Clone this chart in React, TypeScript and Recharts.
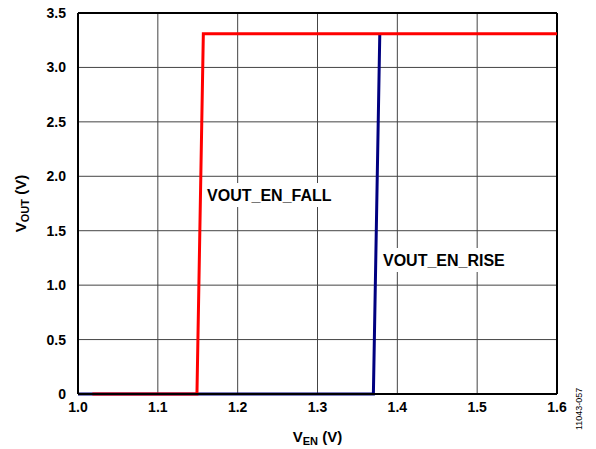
import React from "react";
import {
  LineChart,
  Line,
  XAxis,
  YAxis,
  CartesianGrid,
  ReferenceLine,
  ReferenceDot,
} from "recharts";

// --- data ---
const fallX = [1.018, 1.149, 1.157, 1.6];
const fallY = [0, 0, 3.31, 3.31];
const riseX = [1.0, 1.37, 1.378];
const riseY = [0, 0, 3.3];
const xTicks = [1.0, 1.1, 1.2, 1.3, 1.4, 1.5, 1.6];
const yTicks = [0, 0.5, 1.0, 1.5, 2.0, 2.5, 3.0, 3.5];

const fallData = fallX.map((x, i) => ({ x, v: fallY[i] }));
const riseData = riseX.map((x, i) => ({ x, v: riseY[i] }));

const font = "'Liberation Sans', Arial, sans-serif";

const XLabel = ({ viewBox }: any) => {
  const cx = viewBox.x + viewBox.width / 2;
  return (
    <text x={cx} y={442} textAnchor="middle" fontFamily={font} fontWeight="bold" fontSize={15} fill="#000">
      V<tspan fontSize={11} dy={3}>EN</tspan>
      <tspan dy={-3}> (V)</tspan>
    </text>
  );
};

const YLabel = ({ viewBox }: any) => {
  const cy = viewBox.y + viewBox.height / 2;
  return (
    <text x={26} y={cy} transform={`rotate(-90 26 ${cy})`} textAnchor="middle" fontFamily={font} fontWeight="bold" fontSize={15} fill="#000">
      V<tspan fontSize={11} dy={3}>OUT</tspan>
      <tspan dy={-3}> (V)</tspan>
    </text>
  );
};

const tagLabel = (text: string, w: number) => ({ viewBox }: any) => {
  const x = viewBox.cx ?? viewBox.x + (viewBox.width || 0) / 2;
  const y = viewBox.cy ?? viewBox.y + (viewBox.height || 0) / 2;
  return (
    <g>
      <rect x={x - 3} y={y - 12} width={w} height={24} fill="#fff" />
      <text x={x} y={y + 6} fontFamily={font} fontWeight="bold" fontSize={16} fill="#000">
        {text}
      </text>
    </g>
  );
};

export default function App() {
  return (
    <div style={{ position: "absolute", left: 0, top: 0, width: 596, height: 449, background: "#fff" }}>
      <LineChart width={596} height={449} margin={{ top: 13, right: 39, left: 36, bottom: 25 }}>
        <CartesianGrid stroke="#444" strokeWidth={1} horizontalValues={yTicks} verticalValues={xTicks} />
        <XAxis
          type="number"
          dataKey="x"
          domain={[1.0, 1.6]}
          ticks={xTicks}
          tickFormatter={(v: number) => v.toFixed(1)}
          tickLine={false}
          axisLine={{ stroke: "#000", strokeWidth: 2 }}
          tick={{ fill: "#000", fontSize: 14, fontWeight: "bold", fontFamily: font }}
          height={30}
          tickMargin={2}
          allowDataOverflow
          label={<XLabel />}
        />
        <YAxis
          type="number"
          dataKey="v"
          domain={[0, 3.5]}
          ticks={yTicks}
          tickFormatter={(v: number) => (v === 0 ? "0" : v.toFixed(1))}
          tickLine={false}
          axisLine={{ stroke: "#000", strokeWidth: 2 }}
          tick={{ fill: "#000", fontSize: 14, fontWeight: "bold", fontFamily: font }}
          width={42}
          tickMargin={6}
          label={<YLabel />}
        />
        <ReferenceLine y={3.5} stroke="#000" strokeWidth={2} />
        <ReferenceLine x={1.6} stroke="#000" strokeWidth={2} />
        <ReferenceDot x={1.1617} y={1.828} r={0} stroke="none" label={tagLabel("VOUT_EN_FALL", 130)} />
        <ReferenceDot x={1.382} y={1.231} r={0} stroke="none" label={tagLabel("VOUT_EN_RISE", 126)} />
        <Line data={riseData} dataKey="v" stroke="#000080" strokeWidth={3} dot={false} isAnimationActive={false} />
        <Line data={fallData} dataKey="v" stroke="#ff0000" strokeWidth={3} dot={false} isAnimationActive={false} />
      </LineChart>
      <div
        style={{
          position: "absolute",
          left: 574,
          top: 430,
          transform: "rotate(-90deg)",
          transformOrigin: "0 0",
          fontFamily: font,
          fontSize: 9,
          color: "#000",
          whiteSpace: "nowrap",
        }}
      >
        11043-057
      </div>
    </div>
  );
}
